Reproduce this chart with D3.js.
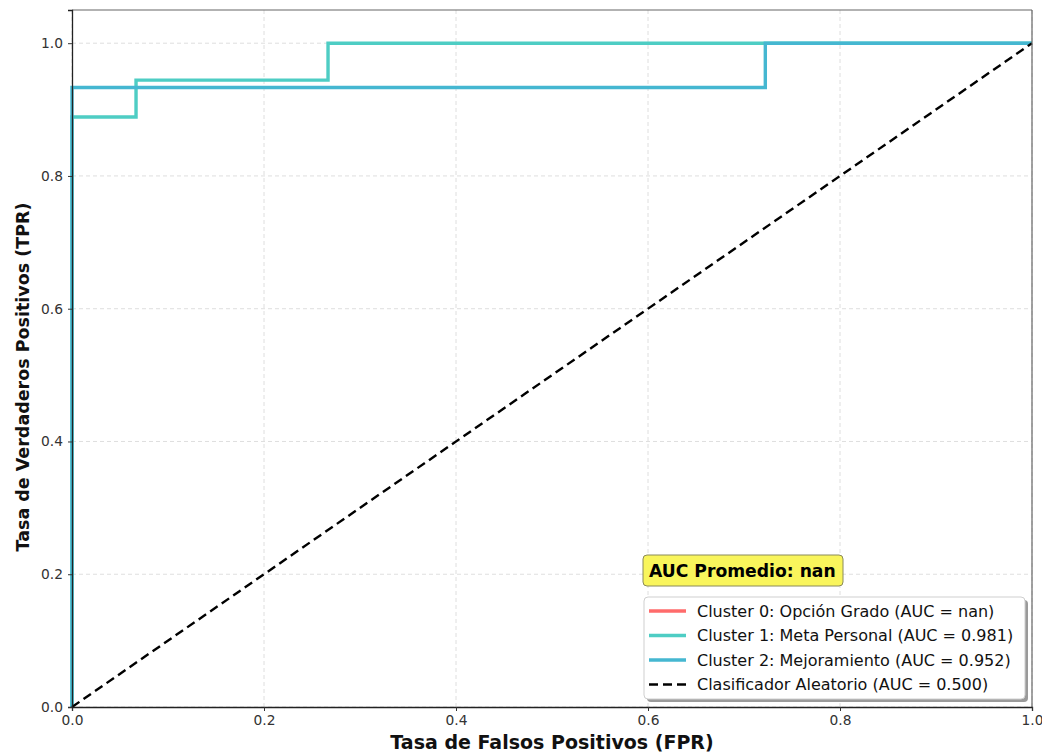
<!DOCTYPE html>
<html>
<head>
<meta charset="utf-8">
<script src="https://cdn.jsdelivr.net/npm/d3@7"></script>
<style>
  html, body { margin: 0; padding: 0; background: #fff; }
  svg { display: block; font-family: "DejaVu Sans", sans-serif; }
</style>
</head>
<body>
<svg id="chart" width="1042" height="754"></svg>
<script>
// ROC curves per cluster (corner points of the step curves)
const clusterNames = ["Cluster 0: Opción Grado", "Cluster 1: Meta Personal", "Cluster 2: Mejoramiento"];
const clusterColors = ["#FF6B6B", "#4ECDC4", "#45B7D1"];
const clusterAUC = ["nan", "0.981", "0.952"];

const fpr0 = [];
const tpr0 = [];
const fpr1 = [0, 0, 0.0667, 0.0667, 0.2667, 0.2667, 1];
const tpr1 = [0, 0.8889, 0.8889, 0.9444, 0.9444, 1, 1];
const fpr2 = [0, 0, 0.7222, 0.7222, 1];
const tpr2 = [0, 0.9333, 0.9333, 1, 1];

const randomFpr = [0, 1];
const randomTpr = [0, 1];
const randomLabel = "Clasificador Aleatorio (AUC = 0.500)";
const meanAUCLabel = "AUC Promedio: nan";

const xTicks = [0, 0.2, 0.4, 0.6, 0.8, 1.0];
const yTicks = [0, 0.2, 0.4, 0.6, 0.8, 1.0];

const svg = d3.select("#chart");
const m = { left: 72, right: 1032, top: 10, bottom: 707 };

const x = d3.scaleLinear().domain([0, 1]).range([m.left, m.right]);
const y = d3.scaleLinear().domain([0, 1.05]).range([m.bottom, m.top]);

// grid
const grid = svg.append("g");
grid.selectAll("line.gx").data(xTicks).join("line")
  .attr("x1", d => x(d)).attr("x2", d => x(d))
  .attr("y1", m.top).attr("y2", m.bottom)
  .attr("stroke", "#d6d6d6").attr("stroke-width", 0.8).attr("stroke-dasharray", "4,3");
grid.selectAll("line.gy").data(yTicks).join("line")
  .attr("x1", m.left).attr("x2", m.right)
  .attr("y1", d => y(d)).attr("y2", d => y(d))
  .attr("stroke", "#d6d6d6").attr("stroke-width", 0.8).attr("stroke-dasharray", "4,3");

// curves
const line = d3.line().x(d => x(d[0])).y(d => y(d[1]));
const curves = [
  { f: fpr0, t: tpr0, c: clusterColors[0] },
  { f: fpr1, t: tpr1, c: clusterColors[1] },
  { f: fpr2, t: tpr2, c: clusterColors[2] }
];
curves.forEach(cv => {
  if (!cv.f.length) return;
  svg.append("path")
    .datum(d3.zip(cv.f, cv.t))
    .attr("d", line)
    .attr("fill", "none")
    .attr("stroke", cv.c)
    .attr("stroke-width", 3.4)
    .attr("stroke-linejoin", "miter");
});

// random classifier
svg.append("path")
  .datum(d3.zip(randomFpr, randomTpr))
  .attr("d", line)
  .attr("fill", "none")
  .attr("stroke", "#000")
  .attr("stroke-width", 2.4)
  .attr("stroke-dasharray", "9,5");

// spines
svg.append("line").attr("x1", m.left).attr("x2", m.right).attr("y1", m.top).attr("y2", m.top)
  .attr("stroke", "#666").attr("stroke-width", 1.2);
svg.append("line").attr("x1", m.right).attr("x2", m.right).attr("y1", m.top).attr("y2", m.bottom)
  .attr("stroke", "#666").attr("stroke-width", 1.2);

// axes
const xAxis = svg.append("g").attr("transform", `translate(0,${m.bottom})`)
  .call(d3.axisBottom(x).tickValues(xTicks).tickFormat(d3.format(".1f")).tickSize(4).tickPadding(4));
const yAxis = svg.append("g").attr("transform", `translate(${m.left},0)`)
  .call(d3.axisLeft(y).tickValues(yTicks).tickFormat(d3.format(".1f")).tickSize(4).tickPadding(5));
[xAxis, yAxis].forEach(a => {
  a.select(".domain").attr("stroke", "#222").attr("stroke-width", 1.3);
  a.selectAll(".tick line").attr("stroke", "#333");
  a.selectAll(".tick text").attr("fill", "#333").attr("font-size", 13.8)
    .attr("font-family", "DejaVu Sans, sans-serif");
});

// axis titles
svg.append("text")
  .attr("x", (m.left + m.right) / 2).attr("y", 749)
  .attr("text-anchor", "middle")
  .attr("font-size", 19).attr("font-weight", "bold").attr("fill", "#111")
  .text("Tasa de Falsos Positivos (FPR)");
svg.append("text")
  .attr("transform", `translate(29,377) rotate(-90)`)
  .attr("text-anchor", "middle")
  .attr("font-size", 17.5).attr("font-weight", "bold").attr("fill", "#111")
  .text("Tasa de Verdaderos Positivos (TPR)");

// mean AUC box
const badge = svg.append("g");
badge.append("rect")
  .attr("x", 643).attr("y", 555).attr("width", 200).attr("height", 31)
  .attr("rx", 4).attr("ry", 4)
  .attr("fill", "#f9f55c").attr("stroke", "#8a8a5a").attr("stroke-width", 1);
badge.append("text")
  .attr("x", 649).attr("y", 577)
  .attr("font-size", 17.2).attr("font-weight", "bold").attr("fill", "#000")
  .text(meanAUCLabel);

// legend
const lg = svg.append("g");
const lx = 644, ly = 597, lw = 381, lh = 102;
lg.append("rect")
  .attr("x", lx + 3).attr("y", ly + 3).attr("width", lw).attr("height", lh)
  .attr("rx", 4).attr("fill", "#9a9a9a");
lg.append("rect")
  .attr("x", lx).attr("y", ly).attr("width", lw).attr("height", lh)
  .attr("rx", 4).attr("fill", "#fff").attr("stroke", "#cfcfcf").attr("stroke-width", 1);

const entries = clusterNames.map((n, i) => ({
  label: `${n} (AUC = ${clusterAUC[i]})`, color: clusterColors[i], dash: null, w: 3.4
}));
entries.push({ label: randomLabel, color: "#000", dash: "9,5", w: 2.4 });

entries.forEach((e, i) => {
  const cy = 611 + i * 24.5;
  lg.append("line")
    .attr("x1", 649).attr("x2", 686).attr("y1", cy).attr("y2", cy)
    .attr("stroke", e.color).attr("stroke-width", e.w)
    .attr("stroke-dasharray", e.dash);
  lg.append("text")
    .attr("x", 697).attr("y", cy + 5.5)
    .attr("font-size", 16).attr("fill", "#111")
    .text(e.label);
});
</script>
</body>
</html>
